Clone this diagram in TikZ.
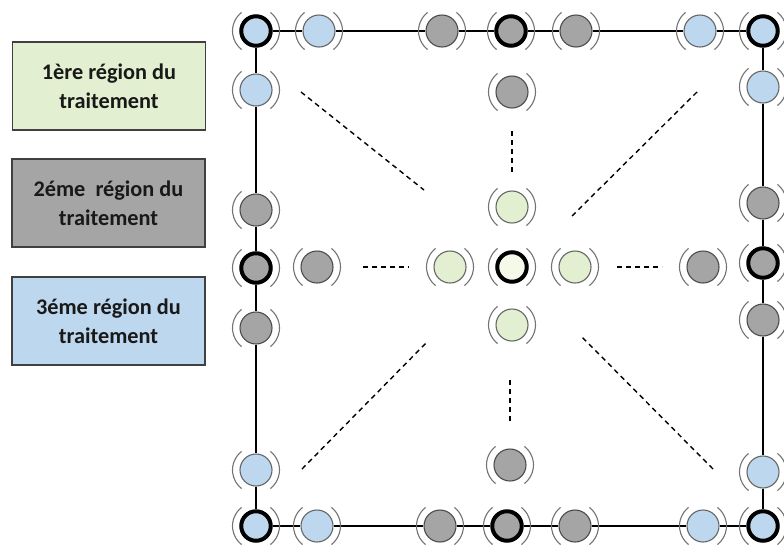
\documentclass[tikz,border=0pt]{standalone}
\usepackage{fontspec}
\setmainfont{Carlito}
\begin{document}
\definecolor{regA}{HTML}{E2EFD0}
\definecolor{regB}{HTML}{A5A5A5}
\definecolor{regC}{HTML}{BDD7EE}
\definecolor{regCore}{HTML}{F4F9EA}
\begin{tikzpicture}[x=1pt,y=-1pt,
  legendbox/.style={draw=black!75,line width=1.3pt,minimum width=193pt,minimum height=88pt,
    align=center,font=\fontsize{22.3}{29}\selectfont\bfseries,inner sep=0pt,text=black!90},
  sensor/.style={circle,inner sep=0pt,minimum size=32pt,line width=1.1pt},
  nA/.style={sensor,fill=regA,draw=black!60},
  nB/.style={sensor,fill=regB,draw=black!70},
  nC/.style={sensor,fill=regC,draw=black!60},
  hub/.style={line width=4pt,draw=black,minimum size=29.5pt},
  wave/.style={draw=black!55,line width=1.1pt},
  frame/.style={draw=black,line width=1.6pt},
  link/.style={draw=black,line width=1.4pt,dash pattern=on 5pt off 4pt}]
\useasboundingbox (0,0) rectangle (784,547);

% legend
\node[legendbox,fill=regA] (lgA) at (109,86) {1ère région du\\traitement};
\node[legendbox,fill=regB] (lgB) at (108.5,203) {2éme\ \ région du\\traitement};
\node[legendbox,fill=regC] (lgC) at (108.5,321) {3éme région du\\traitement};

% top row
\node[nC,hub] (t1) at (256,31) {};
\node[nC] (t2) at (319,31) {};
\node[nB] (t3) at (442,31) {};
\node[nB,hub] (t4) at (511,31) {};
\node[nB] (t5) at (576,31) {};
\node[nC] (t6) at (700,31) {};
\node[nC,hub] (t7) at (763,31) {};
% left column
\node[nC] (l1) at (256,90) {};
\node[nB] (l2) at (256,210) {};
\node[nB,hub] (l3) at (256,268) {};
\node[nB] (l4) at (256,328) {};
\node[nC] (l5) at (256,470) {};
% right column
\node[nC] (r1) at (763,87) {};
\node[nB] (r2) at (763,203) {};
\node[nB,hub] (r3) at (763,263) {};
\node[nB] (r4) at (763,320) {};
\node[nC] (r5) at (763,472) {};
% bottom row
\node[nC,hub] (b1) at (256,526) {};
\node[nC] (b2) at (317,526) {};
\node[nB] (b3) at (440,526) {};
\node[nB,hub] (b4) at (507,526) {};
\node[nB] (b5) at (575,526) {};
\node[nC] (b6) at (703,526) {};
\node[nC,hub] (b7) at (763,526) {};
% inner cross
\node[nB] (c1) at (512,92) {};
\node[nA] (c2) at (512,207) {};
\node[nA,hub,fill=regCore] (c0) at (512,267) {};
\node[nA] (c3) at (512,325) {};
\node[nB] (c4) at (510,465) {};
\node[nB] (m1) at (317,267) {};
\node[nA] (m2) at (450,267) {};
\node[nA] (m3) at (575,267) {};
\node[nB] (m4) at (703,267) {};

% frame links
\foreach \a/\b in {t1/t2,t2/t3,t3/t4,t4/t5,t5/t6,t6/t7,
  t1/l1,l1/l2,l2/l3,l3/l4,l4/l5,l5/b1,
  t7/r1,r1/r2,r2/r3,r3/r4,r4/r5,r5/b7,
  b1/b2,b2/b3,b3/b4,b4/b5,b5/b6,b6/b7}
  \draw[frame] (\a) -- (\b);

% signal arcs around every sensor
\foreach \n in {t1,t2,t3,t4,t5,t6,t7,l1,l2,l3,l4,l5,r1,r2,r3,r4,r5,
  b1,b2,b3,b4,b5,b6,b7,c1,c2,c0,c3,c4,m1,m2,m3,m4}{
  \draw[wave] ([shift={(52:23.5pt)}]\n.center) arc[start angle=52,end angle=-52,radius=23.5pt];
  \draw[wave] ([shift={(128:23.5pt)}]\n.center) arc[start angle=128,end angle=232,radius=23.5pt];
}

% dashed links towards the centre
\coordinate (dv1a) at (512,131); \coordinate (dv1b) at (512,172);
\coordinate (dv2a) at (510,380); \coordinate (dv2b) at (510,422);
\coordinate (dh1a) at (363,267); \coordinate (dh1b) at (409,267);
\coordinate (dh2a) at (617,267); \coordinate (dh2b) at (662,267);
\coordinate (dd1a) at (301,92);  \coordinate (dd1b) at (424,190);
\coordinate (dd2a) at (697,92);  \coordinate (dd2b) at (572,216);
\coordinate (dd3a) at (302,469); \coordinate (dd3b) at (426,343);
\coordinate (dd4a) at (713,469); \coordinate (dd4b) at (581,336);
\foreach \p in {dv1,dv2,dh1,dh2,dd1,dd2,dd3,dd4}
  \draw[link] (\p a) -- (\p b);
\end{tikzpicture}
\end{document}
